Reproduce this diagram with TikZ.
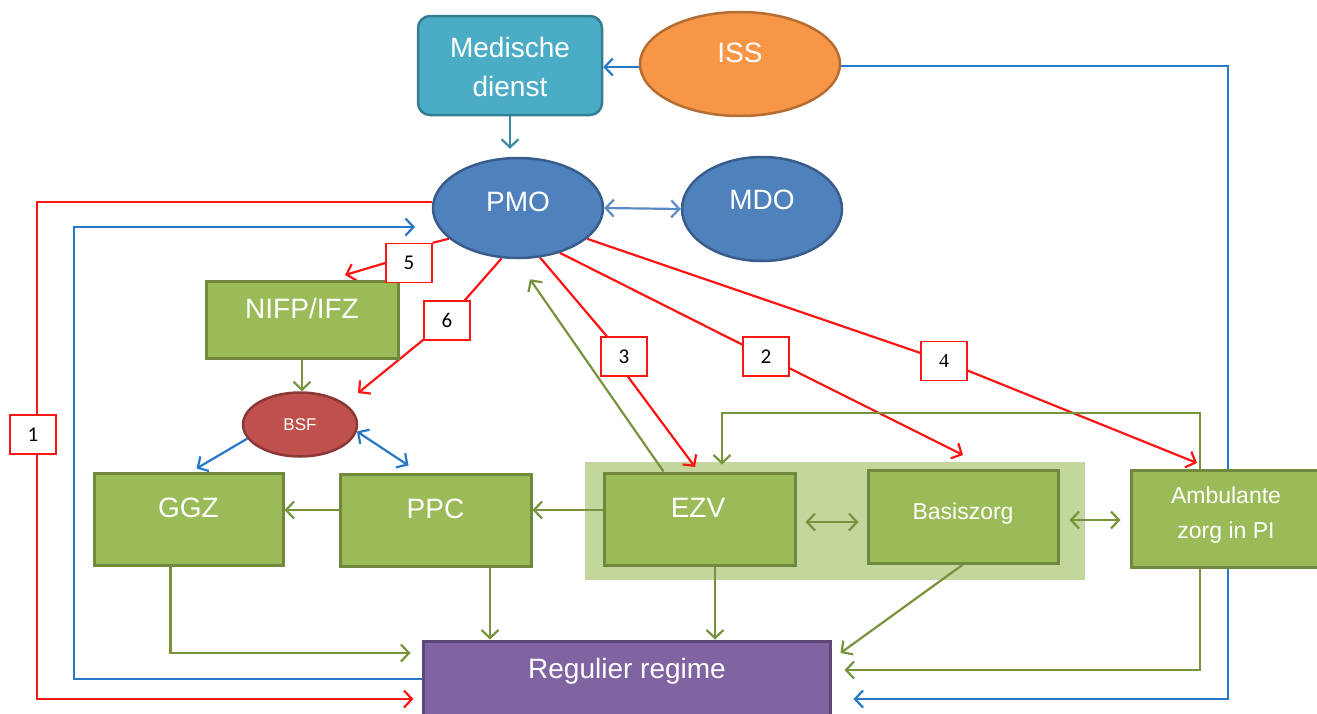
\documentclass[tikz,border=0pt]{standalone}
\usepackage{fontspec}
\setmainfont{Liberation Sans}
\newfontfamily\numfont{Carlito}
\newfontfamily\serfont{Liberation Serif}
\usetikzlibrary{arrows.meta,shapes.geometric,calc}
\pgfdeclarelayer{back}
\pgfdeclarelayer{lines}
\pgfsetlayers{back,lines,main}
\definecolor{medfill}{HTML}{4BACC6}
\definecolor{medline}{HTML}{357D91}
\definecolor{issfill}{HTML}{F79646}
\definecolor{issline}{HTML}{B66D31}
\definecolor{pmofill}{HTML}{4F81BD}
\definecolor{pmoline}{HTML}{385D8A}
\definecolor{gfill}{HTML}{9BBB59}
\definecolor{gline}{HTML}{71893F}
\definecolor{shadec}{HTML}{C3D69B}
\definecolor{bsffill}{HTML}{C0504D}
\definecolor{bsfline}{HTML}{8C3836}
\definecolor{regfill}{HTML}{8064A2}
\definecolor{regline}{HTML}{5C4776}
\definecolor{garrow}{HTML}{77933C}
\definecolor{redl}{HTML}{FF1414}
\definecolor{bluel}{HTML}{2878C8}
\definecolor{pmoarr}{HTML}{5A8AC6}
\definecolor{medarr}{HTML}{3D8AA3}
\tikzset{
  big/.style={font=\fontsize{28}{39}\selectfont, text=white, align=center, inner sep=0pt},
  mid/.style={font=\fontsize{23}{35}\selectfont, text=white, align=center, inner sep=0pt},
  gbox/.style={draw=gline, fill=gfill, line width=3pt, inner sep=0pt},
  oval/.style={ellipse, line width=2.5pt, inner sep=0pt},
  lab/.style={draw=redl, fill=white, line width=1.4pt, minimum width=46pt, minimum height=39pt, inner sep=0pt, font=\numfont\fontsize{21}{21}\selectfont},
  tip/.style={-{Straight Barb[length=8pt,width=17pt]}},
  dtip/.style={{Straight Barb[length=8pt,width=17pt]}-{Straight Barb[length=8pt,width=17pt]}},
  rl/.style={draw=redl, line width=2.2pt},
  gl/.style={draw=garrow, line width=2.2pt},
  bll/.style={draw=bluel, line width=2.2pt},
}
\begin{document}
\begin{tikzpicture}[x=1pt,y=-1pt]
\useasboundingbox (0,0) rectangle (1317,713);
\clip (0,0) rectangle (1317,713);

% ---------- nodes ----------
\node[draw=medline, fill=medfill, line width=2.5pt, rounded corners=12pt, minimum width=184pt, minimum height=99pt, inner sep=0pt] (med) at (510,65.5) {};
\node[big] (medt) at (510,67) {Medische\\dienst};

\node[oval, draw=issline, fill=issfill, minimum width=200pt, minimum height=104pt] (iss) at (740,64) {};
\node[big, anchor=base] (isst) at (740,62) {ISS};

\node[oval, draw=pmoline, fill=pmofill, minimum width=170pt, minimum height=100pt] (pmo) at (518,208) {};
\node[big, anchor=base] (pmot) at (518,211) {PMO};

\node[oval, draw=pmoline, fill=pmofill, minimum width=160pt, minimum height=104pt] (mdo) at (762,209) {};
\node[big, anchor=base] (mdot) at (762,209) {MDO};

\node[gbox, minimum width=192pt, minimum height=77pt] (nifp) at (302,319.5) {};
\node[big, anchor=base] (nifpt) at (302,318) {NIFP/IFZ};

\node[oval, draw=bsfline, fill=bsffill, minimum width=114pt, minimum height=64pt] (bsf) at (300,424.5) {};
\node[font=\fontsize{17}{17}\selectfont, text=white, inner sep=0pt, anchor=base] (bsft) at (300,430) {BSF};

\begin{pgfonlayer}{back}
\node[fill=shadec, minimum width=500pt, minimum height=118pt, inner sep=0pt] (shade) at (835,521) {};
\end{pgfonlayer}

\node[gbox, minimum width=189pt, minimum height=92pt] (ggz) at (188.5,519) {};
\node[big, anchor=base] (ggzt) at (188.5,517) {GGZ};

\node[gbox, minimum width=191pt, minimum height=92pt] (ppc) at (435.5,520) {};
\node[big, anchor=base] (ppct) at (435.5,518) {PPC};

\node[gbox, minimum width=191pt, minimum height=92pt] (ezv) at (699.5,519) {};
\node[big, anchor=base] (ezvt) at (698,517) {EZV};

\node[gbox, minimum width=190pt, minimum height=93pt] (bas) at (963,516.5) {};
\node[mid, anchor=base] (bast) at (963,519) {Basiszorg};

\node[gbox, minimum width=190pt, minimum height=97pt] (amb) at (1226,518.5) {};
\node[mid] (ambt) at (1226,515.5) {Ambulante\\zorg in PI};

\node[draw=regline, fill=regfill, line width=3pt, minimum width=407pt, minimum height=80pt, inner sep=0pt] (reg) at (626.5,681) {};
\node[big, anchor=base] (regt) at (627,678) {Regulier regime};

% label boxes
\node[lab] (l1) at (33,434.5) {1};
\node[lab] (l5) at (409,263) {5};
\node[lab] (l6) at (447,320.5) {6};
\node[lab] (l3) at (624,356.5) {3};
\node[lab] (l2) at (766,356.5) {2};
\node[lab, font=\serfont\fontsize{20}{20}\selectfont] (l4) at (944,361) {4};

% free ends
\coordinate (c1) at (37,699);
\coordinate (bl) at (74,227);
\coordinate (pmoin) at (415,227);
\coordinate (br) at (1228,699);
\coordinate (gt) at (722,413);
\coordinate (t5) at (345,275);
\coordinate (t6) at (358,393);
\coordinate (t3) at (695,467);
\coordinate (t2) at (963,455);
\coordinate (t4) at (1197,463);

% ---------- connectors ----------
\begin{pgfonlayer}{lines}
% blue
\draw[bll, tip] ([yshift=-3pt]iss.west) -- ([yshift=-3pt]iss.west -| med.east);
\draw[bll, tip, shorten >=22pt] ([yshift=-2pt]iss.east) -| (br) -- (br -| reg.east);
\draw[bll, tip] ([yshift=2pt]reg.west) -| (bl) -- (pmoin);
\draw[draw=medarr, line width=2.2pt, tip, shorten >=8pt] (med.south) -- (med.south |- pmo.north);
\draw[draw=pmoarr, line width=2.2pt, dtip] (pmo.east) -- (mdo.west);
\draw[bll, tip] (bsf.195) -- ([xshift=8pt,yshift=3pt]ggz.north);
\draw[bll, dtip] (bsf.353) -- ([xshift=70pt,yshift=7pt]ppc.north west);

% red
\draw[rl, tip, shorten >=8pt] (pmo.176) -| (c1) -- (c1 -| reg.west);
\draw[rl] (pmo.204) -- (l5.north east);
\draw[rl, tip] (l5.west) -- (t5);
\draw[rl] (pmo.252) -- (l6);
\draw[rl, tip] (l6) -- (t6);
\draw[rl] (pmo.294) -- (l3);
\draw[rl, tip] ([xshift=4pt]l3.south) -- (t3);
\draw[rl] (pmo.313) -- (l2);
\draw[rl, tip] (l2) -- (t2);
\draw[rl] (pmo.336) -- (l4);
\draw[rl, tip] (l4) -- (t4);

% green
\draw[gl, tip] (nifp.south) -- (nifp.south |- bsf.north);
\draw[gl, tip] ([yshift=10pt]ppc.west) -- ([yshift=10pt]ppc.west -| ggz.east);
\draw[gl, tip] ([yshift=9pt]ezv.west) -- ([yshift=9pt]ezv.west -| ppc.east);
\draw[gl, dtip, shorten <=9pt, shorten >=8pt] ([yshift=-3pt]ezv.east) -- ([yshift=-3pt]ezv.east -| bas.west);
\draw[gl, dtip, shorten <=10pt, shorten >=9pt] ([yshift=-3.5pt]bas.east) -- ([yshift=-3.5pt]bas.east -| amb.west);
\draw[gl, tip] ([xshift=61pt]ezv.north west) -- ($(pmo.south)+(12,20)$);
\draw[gl, tip, shorten >=7pt] ([xshift=-26pt]amb.north) |- (gt) -- (gt |- ezv.north);
\draw[gl, tip, shorten >=11pt] ([xshift=-18pt]ggz.south) |- ([yshift=28pt]reg.west);
\draw[gl, tip] ([xshift=54.5pt]ppc.south) -- ([xshift=54.5pt]ppc.south |- reg.north);
\draw[gl, tip] ([xshift=15.5pt]ezv.south) -- ([xshift=15.5pt]ezv.south |- reg.north);
\draw[gl, tip] (bas.south) -- ([xshift=9pt,yshift=28pt]reg.east);
\draw[gl, tip, shorten >=13pt] ([xshift=-26pt]amb.south) |- ([yshift=11pt]reg.east);
\end{pgfonlayer}
\end{tikzpicture}
\end{document}
